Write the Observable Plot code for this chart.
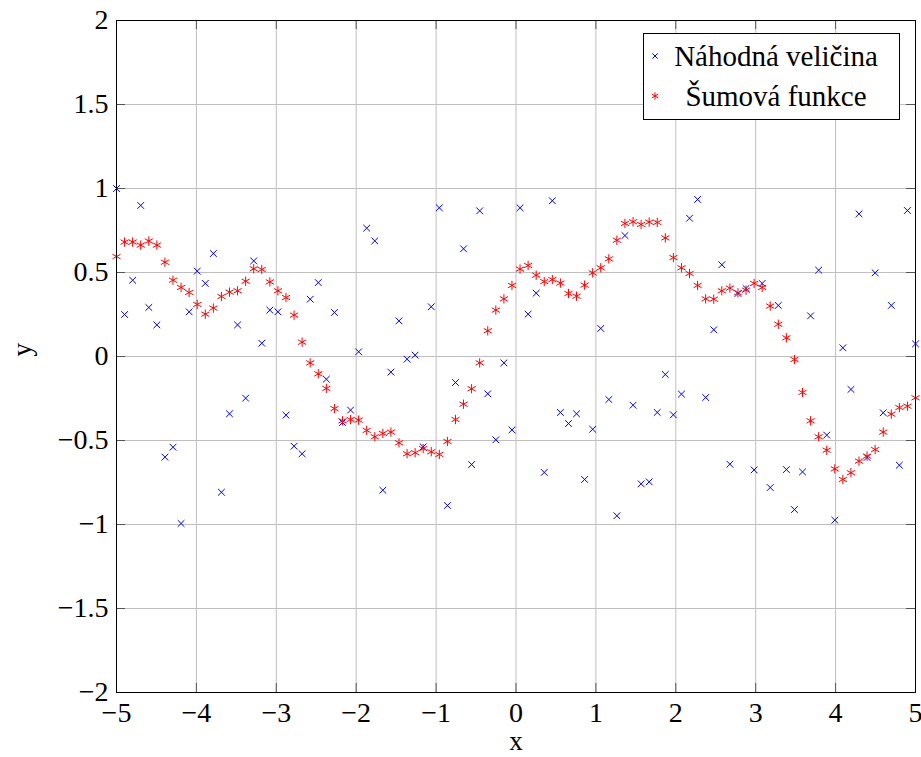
<!DOCTYPE html>
<html><head><meta charset="utf-8">
<script src="https://cdn.jsdelivr.net/npm/d3@7"></script>
<script src="https://cdn.jsdelivr.net/npm/@observablehq/plot@0.6"></script>
<style>
body{margin:0;background:#fff;}
#wrap{position:relative;width:921px;height:757px;}
#legend{position:absolute;left:643px;top:33px;}
</style>
</head><body>
<div id="wrap"></div>
<script>
const xs = [-5,-4.8990,-4.7980,-4.6970,-4.5960,-4.4949,-4.3939,-4.2929,-4.1919,-4.0909,
-3.9899,-3.8889,-3.7879,-3.6869,-3.5859,-3.4848,-3.3838,-3.2828,-3.1818,-3.0808,
-2.9798,-2.8788,-2.7778,-2.6768,-2.5758,-2.4747,-2.3737,-2.2727,-2.1717,-2.0707,
-1.9697,-1.8687,-1.7677,-1.6667,-1.5657,-1.4646,-1.3636,-1.2626,-1.1616,-1.0606,
-0.9596,-0.8586,-0.7576,-0.6566,-0.5556,-0.4545,-0.3535,-0.2525,-0.1515,-0.0505,
0.0505,0.1515,0.2525,0.3535,0.4545,0.5556,0.6566,0.7576,0.8586,0.9596,
1.0606,1.1616,1.2626,1.3636,1.4646,1.5657,1.6667,1.7677,1.8687,1.9697,
2.0707,2.1717,2.2727,2.3737,2.4747,2.5758,2.6768,2.7778,2.8788,2.9798,
3.0808,3.1818,3.2828,3.3838,3.4848,3.5859,3.6869,3.7879,3.8889,3.9899,
4.0909,4.1919,4.2929,4.3939,4.4949,4.5960,4.6970,4.7980,4.8990,5];

const randomValues = [1.0,0.25,0.454,0.899,0.292,0.188,-0.599,-0.540,-0.994,0.266,
0.508,0.435,0.613,-0.808,-0.341,0.188,-0.248,0.569,0.079,0.276,
0.266,-0.349,-0.534,-0.579,0.341,0.440,-0.135,0.262,-0.393,-0.319,
0.028,0.764,0.688,-0.796,-0.093,0.212,-0.016,0.008,-0.538,0.296,
0.885,-0.887,-0.155,0.641,-0.643,0.867,-0.222,-0.496,-0.038,-0.437,
0.885,0.252,0.377,-0.690,0.927,-0.333,-0.399,-0.341,-0.732,-0.433,
0.167,-0.256,-0.948,0.720,-0.290,-0.758,-0.746,-0.333,-0.107,-0.347,
-0.224,0.823,0.935,-0.244,0.159,0.546,-0.641,0.375,0.405,-0.675,
0.435,-0.780,0.304,-0.673,-0.911,-0.687,0.242,0.514,-0.468,-0.974,
0.052,-0.196,0.849,-0.601,0.498,-0.335,0.304,-0.647,0.869,0.075];

const noiseValues = [0.595,0.681,0.681,0.663,0.687,0.663,0.561,0.454,0.411,0.381,
0.310,0.252,0.288,0.357,0.383,0.391,0.448,0.522,0.518,0.444,
0.391,0.351,0.246,0.085,-0.038,-0.103,-0.190,-0.310,-0.383,-0.375,
-0.379,-0.440,-0.478,-0.458,-0.450,-0.514,-0.579,-0.573,-0.548,-0.567,
-0.583,-0.506,-0.375,-0.284,-0.192,-0.038,0.153,0.276,0.343,0.423,
0.520,0.542,0.484,0.446,0.458,0.437,0.375,0.359,0.425,0.498,
0.528,0.581,0.692,0.792,0.802,0.786,0.800,0.798,0.706,0.589,
0.528,0.494,0.423,0.343,0.341,0.391,0.407,0.379,0.395,0.435,
0.411,0.300,0.192,0.111,-0.018,-0.214,-0.383,-0.478,-0.558,-0.669,
-0.732,-0.692,-0.623,-0.593,-0.554,-0.450,-0.343,-0.304,-0.296,-0.246];

const xTicks = [-5,-4,-3,-2,-1,0,1,2,3,4,5];
const yTicks = [-2,-1.5,-1,-0.5,0,0.5,1,1.5,2];
const seriesNames = ["Náhodná veličina","Šumová funkce"];
const seriesColors = ["#0000ff","#ff0000"];

const randomData = xs.map((x,i)=>({x, y: randomValues[i]}));
const noiseData = xs.map((x,i)=>({x, y: noiseValues[i]}));
const fmt = d => (d < 0 ? "\u2212" : "") + Math.abs(d);
const font = "Liberation Serif";
const fs = 28;

const chart = Plot.plot({
  width: 921, height: 757,
  marginLeft: 116, marginRight: 6, marginTop: 20, marginBottom: 65,
  x: {domain: [-5, 5]},
  y: {domain: [-2, 2]},
  style: {fontFamily: font, fontSize: fs + "px", background: "white", color: "black"},
  marks: [
    Plot.gridX(xTicks, {stroke: "#bfbfbf", strokeOpacity: 1, strokeWidth: 1}),
    Plot.gridY(yTicks, {stroke: "#bfbfbf", strokeOpacity: 1, strokeWidth: 1}),
    Plot.ruleX(xTicks, {x: d => d, stroke: "#555", insetTop: 663}),
    Plot.ruleX(xTicks, {x: d => d, stroke: "#555", insetBottom: 663}),
    Plot.ruleY(yTicks, {y: d => d, stroke: "#555", insetRight: 790}),
    Plot.ruleY(yTicks, {y: d => d, stroke: "#555", insetLeft: 790}),
    Plot.axisX(xTicks, {tickSize: 0, tickPadding: 10, tickFormat: fmt, label: null, fontSize: fs, fill: "black"}),
    Plot.axisY(yTicks, {tickSize: 0, tickPadding: 8, tickFormat: fmt, label: null, fontSize: fs, fill: "black"}),
    Plot.dot(randomData, {x: "x", y: "y", symbol: "times", r: 3.14, stroke: seriesColors[0], strokeWidth: 1}),
    Plot.dot(noiseData, {x: "x", y: "y", symbol: "asterisk", r: 4.4, stroke: seriesColors[1], strokeWidth: 1}),
    Plot.frame({stroke: "black", strokeWidth: 1}),
    Plot.text(["x"], {text: d => d, frameAnchor: "bottom", dy: 49, lineAnchor: "middle", fontSize: 27, fill: "black"}),
    Plot.text(["y"], {text: d => d, frameAnchor: "left", dx: -94, rotate: -90, lineAnchor: "middle", fontSize: 27, fill: "black"})
  ]
});
const wrap = document.getElementById("wrap");
wrap.appendChild(chart);

// Legend overlay (inside plot area, top-right)
const ns = "http://www.w3.org/2000/svg";
const lg = document.createElementNS(ns, "svg");
lg.setAttribute("id", "legend");
lg.setAttribute("width", 257);
lg.setAttribute("height", 87);
const rect = document.createElementNS(ns, "rect");
rect.setAttribute("x", 0.5); rect.setAttribute("y", 0.5);
rect.setAttribute("width", 256); rect.setAttribute("height", 86);
rect.setAttribute("fill", "white"); rect.setAttribute("stroke", "black"); rect.setAttribute("stroke-width", 1);
lg.appendChild(rect);
const syms = [d3.symbolTimes, d3.symbolAsterisk];
const sizes = [20, 40];
const rowsY = [23, 63];
seriesNames.forEach((name, i) => {
  const p = document.createElementNS(ns, "path");
  p.setAttribute("d", d3.symbol(syms[i], sizes[i])());
  p.setAttribute("transform", `translate(12,${rowsY[i]})`);
  p.setAttribute("fill", "none");
  p.setAttribute("stroke", seriesColors[i]);
  p.setAttribute("stroke-width", 1);
  lg.appendChild(p);
  const t = document.createElementNS(ns, "text");
  t.setAttribute("x", 133);
  t.setAttribute("y", rowsY[i] + 10);
  t.setAttribute("text-anchor", "middle");
  t.setAttribute("font-family", font);
  t.setAttribute("font-size", 29);
  t.textContent = name;
  lg.appendChild(t);
});
wrap.appendChild(lg);
</script>
</body></html>
